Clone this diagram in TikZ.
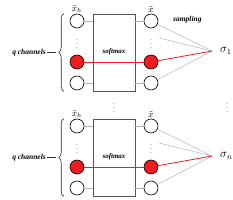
\documentclass[tikz,border=0pt]{standalone}
\usepackage{fontspec}
\setmainfont{Liberation Serif}
\usepackage{tikz}
\usetikzlibrary{calc,positioning,decorations.pathreplacing}
\definecolor{hot}{HTML}{EE1C1C}
\definecolor{wire}{HTML}{B4B4B4}
\definecolor{frame}{HTML}{555555}
\tikzset{
  unit/.style={circle, draw=black, line width=0.6pt, fill=white, minimum size=14pt, inner sep=0pt},
  fired/.style={fill=hot},
  softbox/.style={draw=frame, line width=0.7pt, minimum width=42pt, minimum height=77pt, inner sep=0pt,
    font=\fontsize{7}{8}\selectfont\bfseries\itshape},
  tie/.style={draw=wire, line width=0.6pt},
  fan/.style={draw=wire, line width=0.5pt},
  hotline/.style={draw=hot, line width=0.8pt},
  dotsv/.style={inner sep=0pt, font=\fontsize{6}{6}\selectfont},
  colLabel/.style={inner sep=0.5pt, font=\small},
  tagLabel/.style={inner sep=1pt, font=\fontsize{7.5}{8}\selectfont\bfseries\itshape},
  brace/.style={draw=black!80, line width=0.6pt, decorate, decoration={brace, amplitude=5pt}}
}
% one block: #1 prefix, #2 vertical offset, #3 output label
\newcommand{\channelblock}[3]{%
  \begin{scope}[shift={(0,#2)}]
  \node[softbox] (#1soft) at (114,52.5) {\raisebox{3pt}{softmax}};
  \node[unit] (#1hTop) at (77,21) {};
  \node[dotsv] (#1hDots) at (77,41) {$\vdots$};
  \node[unit, fired] (#1hHot) at (77,62) {};
  \node[unit] (#1hBot) at (77,83) {};
  \node[unit] (#1xTop) at (151,21) {};
  \node[dotsv] (#1xDots) at (151,41) {$\vdots$};
  \node[unit, fired] (#1xHot) at (151,62) {};
  \node[unit] (#1xBot) at (151,83) {};
  \node[colLabel, above=0pt of #1hTop] (#1hLab) {$\tilde{x}_h$};
  \node[colLabel, above=0pt of #1xTop] (#1xLab) {$\tilde{x}$};
  \coordinate (#1hub) at (212,51);
  \node[inner sep=0pt, font=\large, right=8pt of #1hub] (#1sig) {#3};
  \coordinate (#1tip) at (56,52.5);
  \node[tagLabel, anchor=east] (#1chan) at (47,52.5) {q channels};
  \draw[tie] (#1hTop) -- (#1hTop -| #1soft.west);
  \draw[tie] (#1hBot) -- (#1hBot -| #1soft.west);
  \draw[tie] (#1xTop -| #1soft.east) -- (#1xTop);
  \draw[tie] (#1xBot -| #1soft.east) -- (#1xBot);
  \draw[hotline] (#1hHot) -- (#1xHot);
  \foreach \n in {xTop,xBot}
    \draw[fan] (#1\n) -- (#1hub);
  \draw[fan] ([xshift=7pt,yshift=3pt]#1xDots.east) -- (#1hub);
  \draw[hotline] (#1xHot) -- (#1hub);
  \draw[brace] ([xshift=-6pt]#1hBot.west |- #1soft.south) -- ([xshift=-6pt]#1hTop.west |- #1soft.north);
  \draw[draw=black!80, line width=0.6pt] (#1tip) -- (#1chan);
  \end{scope}
}

\begin{document}
\begin{tikzpicture}[x=1pt,y=-1pt]
\path[use as bounding box] (0,0) rectangle (233,200);

\channelblock{a}{0}{$\sigma_1$}
\node[tagLabel, anchor=west] (sampling) at (172,20) {sampling};

\channelblock{b}{105}{$\sigma_n$}

\node[dotsv] (midBox) at (114,105) {$\vdots$};
\node[dotsv] (midSig) at (227,105) {$\vdots$};
\end{tikzpicture}
\end{document}
